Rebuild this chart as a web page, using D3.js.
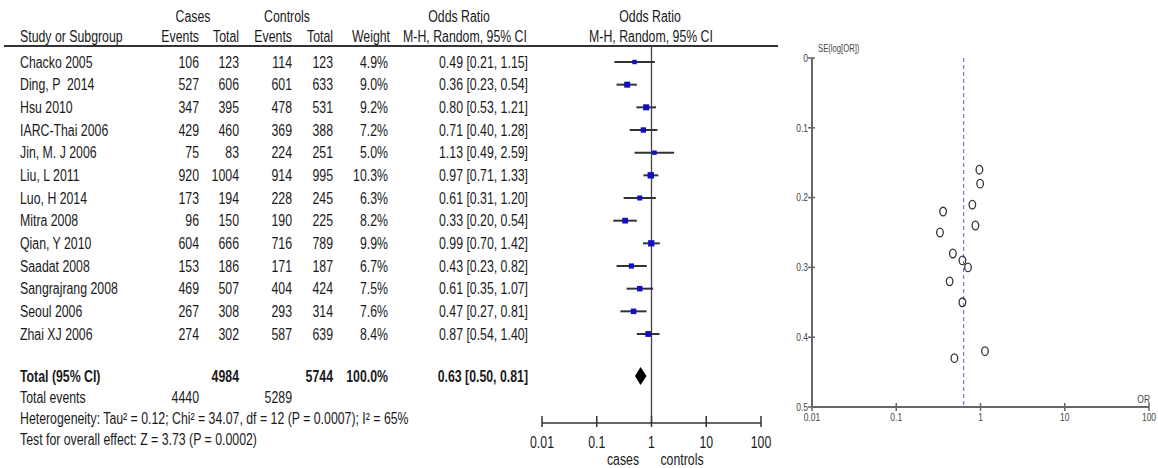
<!DOCTYPE html>
<html>
<head>
<meta charset="utf-8">
<script src="https://cdn.jsdelivr.net/npm/d3@7"></script>
<style>
  body { margin: 0; background: #fff; }
  text { font-family: "Liberation Sans", Arial, sans-serif; fill: #1a1a1a; white-space: pre; }
</style>
</head>
<body>
<div id="chart"></div>
<script>
// Forest plot + funnel plot (cases vs controls, odds ratios)

const studies = ["Chacko 2005", "Ding, P  2014", "Hsu 2010", "IARC-Thai 2006", "Jin, M. J 2006",
    "Liu, L 2011", "Luo, H 2014", "Mitra 2008", "Qian, Y 2010", "Saadat 2008",
    "Sangrajrang 2008", "Seoul 2006", "Zhai XJ 2006"];
const caseEvents = [106, 527, 347, 429, 75, 920, 173, 96, 604, 153, 469, 267, 274];
const caseTotal = [123, 606, 395, 460, 83, 1004, 194, 150, 666, 186, 507, 308, 302];
const ctrlEvents = [114, 601, 478, 369, 224, 914, 228, 190, 716, 171, 404, 293, 587];
const ctrlTotal = [123, 633, 531, 388, 251, 995, 245, 225, 789, 187, 424, 314, 639];
const weights = [4.9, 9.0, 9.2, 7.2, 5.0, 10.3, 6.3, 8.2, 9.9, 6.7, 7.5, 7.6, 8.4];
const orVals = [0.49, 0.36, 0.80, 0.71, 1.13, 0.97, 0.61, 0.33, 0.99, 0.43, 0.61, 0.47, 0.87];
const ciLow = [0.21, 0.23, 0.53, 0.40, 0.49, 0.71, 0.31, 0.20, 0.70, 0.23, 0.35, 0.27, 0.54];
const ciHigh = [1.15, 0.54, 1.21, 1.28, 2.59, 1.33, 1.20, 0.54, 1.42, 0.82, 1.07, 0.81, 1.40];
const seLogOR = [0.43, 0.22, 0.21, 0.30, 0.42, 0.16, 0.35, 0.25, 0.18, 0.32, 0.29, 0.28, 0.24];

const pooled = { or: 0.63, low: 0.50, high: 0.81 };
const totals = { caseTotal: 4984, ctrlTotal: 5744, caseEvents: 4440, ctrlEvents: 5289 };
const forestTicks = [0.01, 0.1, 1, 10, 100];
const funnelYTicks = [0, 0.1, 0.2, 0.3, 0.4, 0.5];
const funnelXTicks = [0.01, 0.1, 1, 10, 100];

const W = 1158, H = 468;
const svg = d3.select("#chart").append("svg")
    .attr("width", W).attr("height", H);

const fs = 16;
// no narrow font installed, so squeeze the text horizontally
const squeeze = 0.77;

// column right edges for the table
const col = { name: 20, evC: 199, totC: 239, evK: 292, totK: 333, wt: 388, or: 528 };

const y = d3.scalePoint().domain(studies).range([62, 334]);
const rowTotal = 376, rowEvents = 397, rowHet = 418, rowTest = 439;

function txt(x, yy, s, anchor, opts) {
    opts = opts || {};
    return svg.append("text")
        .attr("x", x).attr("y", yy)
        .attr("dy", "0.35em")
        .attr("text-anchor", anchor || "start")
        .style("font-size", (opts.size || fs) + "px")
        .style("font-weight", opts.bold ? "bold" : "normal")
        .text(s);
}

// Headers
txt(193, 16, "Cases", "middle");
txt(287, 16, "Controls", "middle");
txt(459, 16, "Odds Ratio", "middle");
txt(650, 16, "Odds Ratio", "middle");
txt(col.name, 36, "Study or Subgroup");
txt(col.evC, 36, "Events", "end");
txt(col.totC, 36, "Total", "end");
txt(col.evK, 36, "Events", "end");
txt(col.totK, 36, "Total", "end");
txt(col.wt + 2, 36, "Weight", "end");
txt(465, 36, "M-H, Random, 95% CI", "middle");
txt(651, 36, "M-H, Random, 95% CI", "middle");

svg.append("line")
    .attr("x1", 4).attr("x2", 778).attr("y1", 46).attr("y2", 46)
    .attr("stroke", "#333").attr("stroke-width", 2);

// Study rows
const fmt2 = d3.format(".2f");
studies.forEach((s, i) => {
    const yy = y(s);
    txt(col.name, yy, s);
    txt(col.evC, yy, caseEvents[i], "end");
    txt(col.totC, yy, caseTotal[i], "end");
    txt(col.evK, yy, ctrlEvents[i], "end");
    txt(col.totK, yy, ctrlTotal[i], "end");
    txt(col.wt, yy, weights[i].toFixed(1) + "%", "end");
    txt(col.or, yy, `${fmt2(orVals[i])} [${fmt2(ciLow[i])}, ${fmt2(ciHigh[i])}]`, "end");
});

// Totals
txt(col.name, rowTotal, "Total (95% CI)", "start", { bold: true });
txt(col.totC, rowTotal, totals.caseTotal, "end", { bold: true });
txt(col.totK, rowTotal, totals.ctrlTotal, "end", { bold: true });
txt(col.wt, rowTotal, "100.0%", "end", { bold: true });
txt(col.or, rowTotal, `${fmt2(pooled.or)} [${fmt2(pooled.low)}, ${fmt2(pooled.high)}]`, "end", { bold: true });
txt(col.name, rowEvents, "Total events");
txt(col.evC, rowEvents, totals.caseEvents, "end");
txt(col.evK, rowEvents, totals.ctrlEvents, "end");
txt(col.name, rowHet, "Heterogeneity: Tau² = 0.12; Chi² = 34.07, df = 12 (P = 0.0007); I² = 65%");
txt(col.name, rowTest, "Test for overall effect: Z = 3.73 (P = 0.0002)");

// Forest plot
const xF = d3.scaleLog().domain([0.01, 100]).range([542, 761]);
const axisY = 423;

svg.append("line")
    .attr("x1", xF(1)).attr("x2", xF(1)).attr("y1", 46).attr("y2", axisY)
    .attr("stroke", "#444").attr("stroke-width", 1.3);

const forest = svg.append("g");
forest.selectAll("line.ci")
    .data(studies)
    .join("line")
    .attr("class", "ci")
    .attr("x1", (d, i) => xF(ciLow[i]))
    .attr("x2", (d, i) => xF(ciHigh[i]))
    .attr("y1", d => y(d)).attr("y2", d => y(d))
    .attr("stroke", "#333").attr("stroke-width", 2);

forest.selectAll("rect.pt")
    .data(studies)
    .join("rect")
    .attr("class", "pt")
    .attr("x", (d, i) => xF(orVals[i]) - Math.sqrt(weights[i]))
    .attr("y", (d, i) => y(d) - Math.sqrt(weights[i]))
    .attr("width", (d, i) => 2 * Math.sqrt(weights[i]))
    .attr("height", (d, i) => 2 * Math.sqrt(weights[i]))
    .attr("fill", "#1010c0");

// pooled diamond
const dh = 9;
svg.append("path")
    .attr("d", `M${xF(pooled.low)},${rowTotal} L${xF(pooled.or)},${rowTotal - dh} L${xF(pooled.high)},${rowTotal} L${xF(pooled.or)},${rowTotal + dh} Z`)
    .attr("fill", "#000");

const fAxis = svg.append("g")
    .attr("transform", `translate(0,${axisY})`);
fAxis.append("line")
    .attr("x1", xF(0.01)).attr("x2", xF(100))
    .attr("stroke", "#333").attr("stroke-width", 1.5);
fAxis.selectAll("line.tk")
    .data(forestTicks)
    .join("line")
    .attr("class", "tk")
    .attr("x1", d => xF(d)).attr("x2", d => xF(d))
    .attr("y1", -7).attr("y2", 4)
    .attr("stroke", "#333").attr("stroke-width", 1.5);
fAxis.selectAll("text")
    .data(forestTicks)
    .join("text")
    .attr("x", d => xF(d)).attr("y", 19)
    .attr("dy", "0.35em")
    .attr("text-anchor", "middle")
    .style("font-size", fs + "px")
    .text(d => d3.format("~g")(d));

txt(623, 459, "cases", "middle");
txt(682, 459, "controls", "middle");

// Funnel plot
const xP = d3.scaleLog().domain([0.01, 100]).range([812, 1149]);
const yP = d3.scaleLinear().domain([0, 0.5]).range([58, 407]);
const axisCol = "#666";

svg.append("line")
    .attr("x1", xP(0.01)).attr("x2", xP(0.01))
    .attr("y1", yP(0)).attr("y2", yP(0.5))
    .attr("stroke", axisCol).attr("stroke-width", 2);
svg.append("line")
    .attr("x1", xP(0.01)).attr("x2", xP(100))
    .attr("y1", yP(0.5)).attr("y2", yP(0.5))
    .attr("stroke", axisCol).attr("stroke-width", 2);

svg.selectAll("line.yt")
    .data(funnelYTicks)
    .join("line")
    .attr("class", "yt")
    .attr("x1", xP(0.01) - 4).attr("x2", xP(0.01) + 3)
    .attr("y1", d => yP(d)).attr("y2", d => yP(d))
    .attr("stroke", axisCol).attr("stroke-width", 1.5);
svg.selectAll("text.yl")
    .data(funnelYTicks)
    .join("text")
    .attr("class", "yl")
    .attr("x", xP(0.01) - 4).attr("y", d => yP(d))
    .attr("dy", "0.35em")
    .attr("text-anchor", "end")
    .style("font-size", "11px")
    .style("fill", "#444")
    .text(d => d3.format("~g")(d));

svg.selectAll("line.xt")
    .data(funnelXTicks)
    .join("line")
    .attr("class", "xt")
    .attr("x1", d => xP(d)).attr("x2", d => xP(d))
    .attr("y1", yP(0.5) - 4).attr("y2", yP(0.5) + 4)
    .attr("stroke", axisCol).attr("stroke-width", 1.5);
svg.selectAll("text.xl")
    .data(funnelXTicks)
    .join("text")
    .attr("class", "xl")
    .attr("x", d => xP(d)).attr("y", yP(0.5) + 10)
    .attr("dy", "0.35em")
    .attr("text-anchor", "middle")
    .style("font-size", "11px")
    .style("fill", "#444")
    .text(d => d3.format("~g")(d));

svg.append("text")
    .attr("x", xP(0.01) + 6).attr("y", yP(0) - 6)
    .style("font-size", "10px").style("fill", "#444")
    .text("SE(log[OR])");
svg.append("text")
    .attr("x", xP(100) + 1).attr("y", yP(0.5) - 4)
    .attr("text-anchor", "end")
    .style("font-size", "11px").style("fill", "#444")
    .text("OR");

svg.append("line")
    .attr("x1", xP(pooled.or)).attr("x2", xP(pooled.or))
    .attr("y1", yP(0)).attr("y2", yP(0.5))
    .attr("stroke", "#8080c8").attr("stroke-width", 1.3)
    .attr("stroke-dasharray", "4,3");

svg.append("g")
    .selectAll("ellipse")
    .data(studies)
    .join("ellipse")
    .attr("cx", (d, i) => xP(orVals[i]))
    .attr("cy", (d, i) => yP(seLogOR[i]))
    .attr("rx", 3.3).attr("ry", 4.3)
    .attr("fill", "none")
    .attr("stroke", "#333").attr("stroke-width", 1.3);

// squeeze every label around its own anchor point
svg.selectAll("text").each(function () {
    const t = d3.select(this);
    const tx = +t.attr("x") || 0, ty = +t.attr("y") || 0;
    t.attr("x", 0).attr("y", 0)
        .attr("transform", `translate(${tx},${ty}) scale(${squeeze},1)`);
});
</script>
</body>
</html>
